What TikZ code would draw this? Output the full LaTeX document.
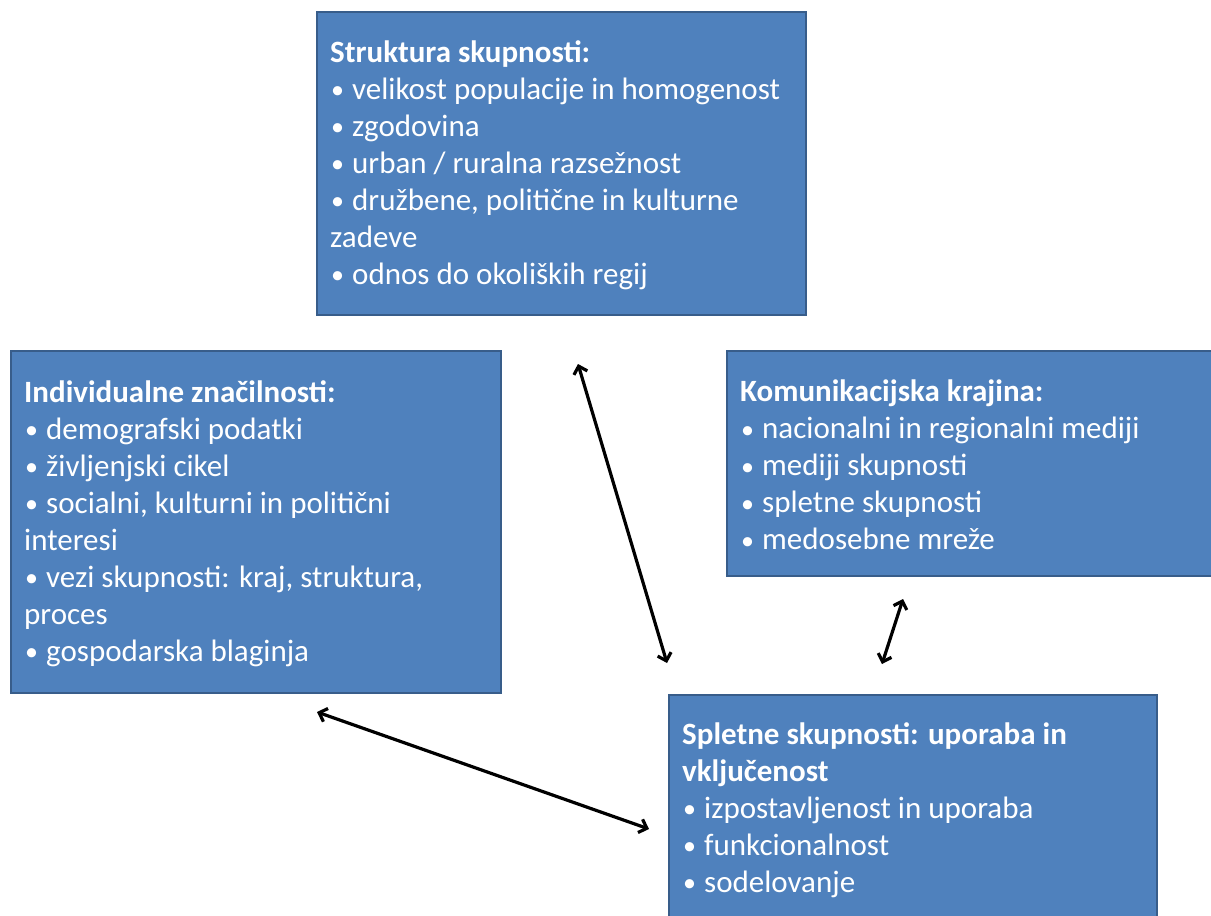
\documentclass[tikz,border=0pt]{standalone}
\usepackage{fontspec}
\setmainfont{Carlito}
\usetikzlibrary{arrows.meta}
\definecolor{boxfill}{HTML}{4F81BD}
\definecolor{boxline}{HTML}{385D8A}
\newcommand{\bul}{\makebox[22pt][l]{\hspace{1pt}{\fontsize{26}{0}\selectfont\raisebox{0.5pt}{•}}}}
\begin{document}
\begin{tikzpicture}[x=1pt,y=-1pt,
  panel/.style={draw=boxline,fill=boxfill,line width=2.2pt,inner sep=0pt,anchor=north west},
  paneltext/.style={anchor=north west,text=white,align=left,inner sep=0pt,
     font=\fontsize{31}{37}\selectfont},
  link/.style={line width=3.2pt,{Straight Barb[length=7pt,width=14pt]}-{Straight Barb[length=7pt,width=14pt]}}]
\useasboundingbox (0,0) rectangle (1211,916);
% boxes
\node[panel,minimum width=489pt,minimum height=303pt] (top) at (316,11) {};
\node[panel,minimum width=490pt,minimum height=342pt] (left) at (10,350) {};
\node[panel,minimum width=486pt,minimum height=225pt] (right) at (726,350) {};
\node[panel,minimum width=488pt,minimum height=226pt] (bottom) at (668,694) {};
% texts
\node[paneltext] (toptext) at ([shift={(14,29)}]top.north west) {\textbf{Struktura skupnosti:}\\
\bul velikost populacije in homogenost\\
\bul zgodovina\\
\bul urban / ruralna razsežnost\\
\bul družbene, politične in kulturne\\
zadeve\\
\bul odnos do okoliških regij};
\node[paneltext] (lefttext) at ([shift={(14,30)}]left.north west) {\textbf{Individualne značilnosti:}\\
\bul demografski podatki\\
\bul življenjski cikel\\
\bul socialni, kulturni in politični\\
interesi\\
\bul vezi skupnosti: kraj, struktura,\\
proces\\
\bul gospodarska blaginja};
\node[paneltext] (righttext) at ([shift={(14,30)}]right.north west) {\textbf{Komunikacijska krajina:}\\
\bul nacionalni in regionalni mediji\\
\bul mediji skupnosti\\
\bul spletne skupnosti\\
\bul medosebne mreže};
\node[paneltext] (bottomtext) at ([shift={(14,28)}]bottom.north west) {\textbf{Spletne skupnosti: uporaba in}\\
\textbf{vključenost}\\
\bul izpostavljenost in uporaba\\
\bul funkcionalnost\\
\bul sodelovanje};
% arrow ends
\coordinate (a1) at (578,364);
\coordinate (a2) at (667,663);
\coordinate (b1) at (903,599);
\coordinate (b2) at (882,664);
\coordinate (c1) at (317,712);
\coordinate (c2) at (649,829);
\draw[link] (a1) -- (a2);
\draw[link] (b1) -- (b2);
\draw[link] (c1) -- (c2);
\end{tikzpicture}
\end{document}
